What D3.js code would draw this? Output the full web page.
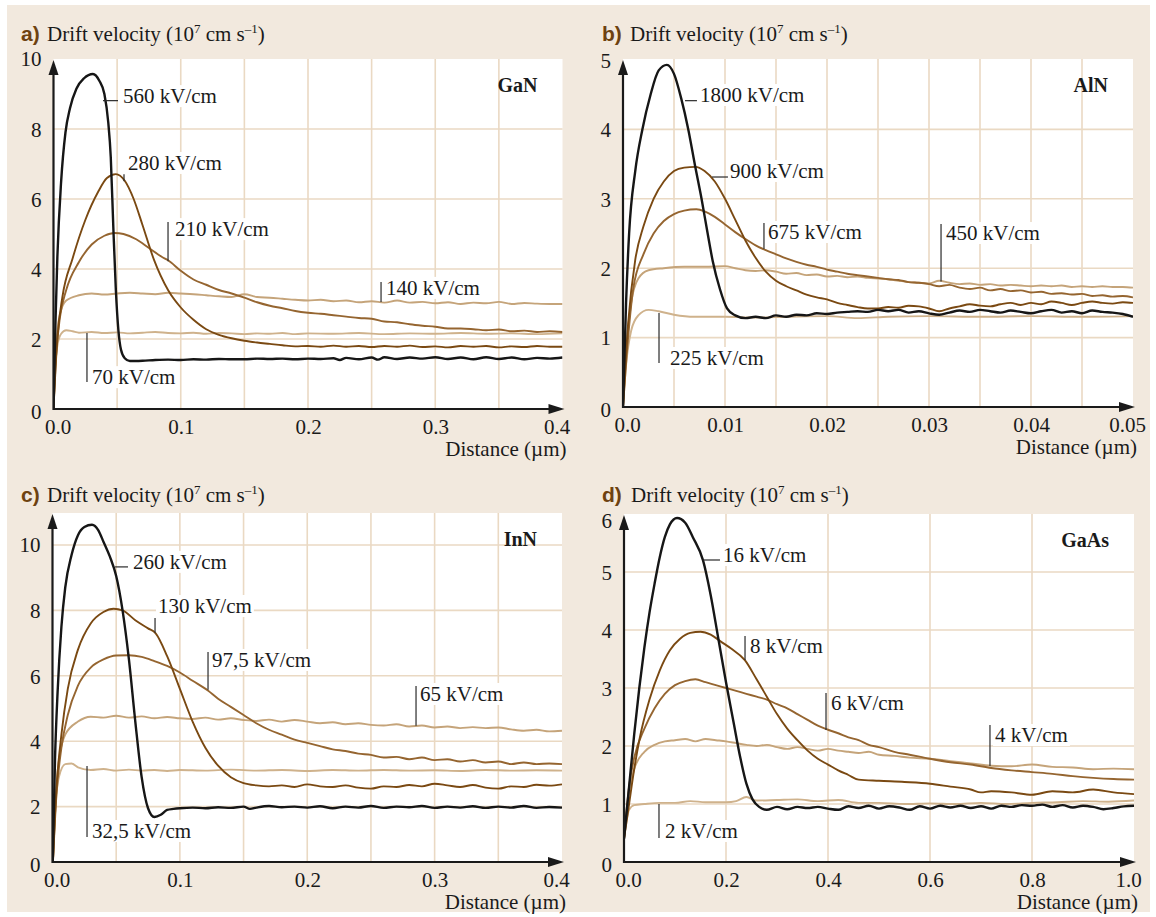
<!DOCTYPE html>
<html><head><meta charset="utf-8">
<script src="https://cdn.jsdelivr.net/npm/d3@7"></script>
<style>body{margin:0;background:#fff} svg{display:block}</style>
</head><body>
<svg id="chart" width="1156" height="917"></svg>
<script>
// ---------- DATA (distance in µm, drift velocity in 1e7 cm/s) ----------
const gan560 = [[0,0],[0.0015,2.4],[0.003,4.3],[0.006,6.5],[0.0094,7.9],[0.013,8.6],[0.018,9.15],[0.024,9.45],[0.031,9.57],[0.036,9.38],[0.04,9.0],[0.043,8.2],[0.045,7.2],[0.047,5.2],[0.049,3.4],[0.051,2.25],[0.053,1.7],[0.056,1.45],[0.06,1.37],[0.07,1.38],[0.08,1.4],[0.09,1.41],[0.1,1.4],[0.11,1.42],[0.12,1.41],[0.13,1.43],[0.14,1.42],[0.15,1.42],[0.16,1.44],[0.17,1.43],[0.18,1.44],[0.19,1.42],[0.2,1.44],[0.21,1.43],[0.22,1.45],[0.225,1.4],[0.23,1.46],[0.24,1.42],[0.25,1.47],[0.255,1.41],[0.26,1.48],[0.27,1.43],[0.28,1.47],[0.29,1.44],[0.3,1.48],[0.31,1.43],[0.32,1.47],[0.33,1.42],[0.34,1.48],[0.35,1.43],[0.36,1.47],[0.37,1.42],[0.38,1.46],[0.39,1.44],[0.4,1.47]];
const gan280 = [[0,0],[0.003,2.0],[0.007,3.2],[0.015,4.3],[0.025,5.4],[0.035,6.2],[0.042,6.6],[0.049,6.71],[0.056,6.52],[0.063,6.0],[0.07,5.25],[0.079,4.26],[0.09,3.4],[0.1,2.9],[0.11,2.55],[0.12,2.28],[0.13,2.12],[0.14,2.02],[0.15,1.95],[0.16,1.9],[0.17,1.86],[0.18,1.82],[0.19,1.79],[0.2,1.8],[0.21,1.78],[0.22,1.81],[0.23,1.78],[0.24,1.8],[0.25,1.77],[0.26,1.8],[0.27,1.78],[0.28,1.81],[0.29,1.77],[0.3,1.79],[0.31,1.76],[0.32,1.8],[0.33,1.78],[0.34,1.8],[0.35,1.76],[0.36,1.79],[0.37,1.77],[0.38,1.8],[0.39,1.78],[0.4,1.78]];
const gan210 = [[0,0],[0.002,1.5],[0.005,2.6],[0.01,3.4],[0.02,4.2],[0.03,4.7],[0.04,4.95],[0.048,5.03],[0.055,5.0],[0.065,4.85],[0.075,4.6],[0.085,4.35],[0.09,4.25],[0.1,3.95],[0.11,3.7],[0.12,3.55],[0.13,3.4],[0.14,3.3],[0.15,3.18],[0.16,3.05],[0.17,2.95],[0.18,2.88],[0.19,2.8],[0.2,2.75],[0.21,2.72],[0.22,2.68],[0.23,2.64],[0.24,2.6],[0.25,2.58],[0.26,2.5],[0.27,2.48],[0.28,2.42],[0.29,2.38],[0.3,2.35],[0.31,2.3],[0.32,2.3],[0.33,2.28],[0.34,2.25],[0.35,2.27],[0.36,2.22],[0.37,2.24],[0.38,2.2],[0.39,2.22],[0.4,2.2]];
const gan140 = [[0,0],[0.002,1.8],[0.005,2.7],[0.01,3.1],[0.02,3.25],[0.03,3.3],[0.04,3.27],[0.05,3.3],[0.06,3.32],[0.07,3.3],[0.08,3.28],[0.09,3.32],[0.1,3.3],[0.11,3.28],[0.12,3.25],[0.13,3.22],[0.14,3.2],[0.15,3.28],[0.16,3.2],[0.17,3.18],[0.18,3.15],[0.19,3.12],[0.2,3.1],[0.21,3.12],[0.22,3.08],[0.23,3.1],[0.24,3.05],[0.25,3.08],[0.26,3.04],[0.27,3.1],[0.28,3.04],[0.29,3.06],[0.3,3.02],[0.31,3.05],[0.32,3.0],[0.33,3.04],[0.34,3.02],[0.35,3.06],[0.36,3.0],[0.37,3.03],[0.38,3.01],[0.39,3.0],[0.4,3.0]];
const gan70 = [[0,0],[0.001,1.0],[0.003,1.8],[0.006,2.15],[0.01,2.25],[0.015,2.22],[0.02,2.18],[0.03,2.2],[0.04,2.17],[0.05,2.19],[0.06,2.16],[0.07,2.18],[0.08,2.2],[0.09,2.17],[0.1,2.16],[0.11,2.18],[0.12,2.15],[0.13,2.17],[0.14,2.16],[0.15,2.14],[0.16,2.16],[0.17,2.15],[0.18,2.17],[0.19,2.14],[0.2,2.16],[0.22,2.15],[0.24,2.17],[0.26,2.14],[0.28,2.16],[0.3,2.15],[0.32,2.17],[0.34,2.15],[0.36,2.16],[0.38,2.14],[0.4,2.16]];

const aln1800 = [[0,0],[0.0003,1.5],[0.0006,2.5],[0.0012,3.4],[0.0019,4.0],[0.0027,4.5],[0.0035,4.85],[0.0043,4.93],[0.005,4.8],[0.0057,4.45],[0.0064,4.0],[0.0071,3.45],[0.0077,3.0],[0.0083,2.5],[0.0088,2.1],[0.0095,1.7],[0.0102,1.42],[0.011,1.32],[0.012,1.28],[0.013,1.3],[0.014,1.28],[0.015,1.32],[0.016,1.3],[0.017,1.33],[0.018,1.32],[0.019,1.35],[0.02,1.34],[0.021,1.36],[0.022,1.37],[0.023,1.38],[0.024,1.37],[0.025,1.4],[0.026,1.38],[0.027,1.4],[0.028,1.36],[0.029,1.38],[0.03,1.35],[0.031,1.33],[0.032,1.36],[0.033,1.39],[0.034,1.37],[0.035,1.4],[0.036,1.38],[0.037,1.36],[0.038,1.39],[0.039,1.37],[0.04,1.35],[0.041,1.38],[0.042,1.4],[0.043,1.36],[0.044,1.38],[0.045,1.35],[0.046,1.39],[0.047,1.37],[0.048,1.36],[0.049,1.34],[0.05,1.3]];
const aln900 = [[0,0],[0.0005,1.2],[0.0012,2.12],[0.002,2.6],[0.003,3.0],[0.004,3.25],[0.005,3.4],[0.006,3.45],[0.0071,3.46],[0.008,3.4],[0.009,3.25],[0.01,3.0],[0.011,2.7],[0.012,2.4],[0.013,2.15],[0.014,1.95],[0.015,1.82],[0.016,1.74],[0.017,1.68],[0.018,1.62],[0.019,1.58],[0.02,1.55],[0.021,1.5],[0.022,1.47],[0.023,1.44],[0.024,1.42],[0.025,1.42],[0.026,1.44],[0.027,1.43],[0.028,1.46],[0.029,1.45],[0.03,1.42],[0.031,1.38],[0.032,1.42],[0.033,1.45],[0.034,1.48],[0.035,1.46],[0.036,1.45],[0.037,1.48],[0.038,1.5],[0.039,1.47],[0.04,1.5],[0.041,1.48],[0.042,1.52],[0.043,1.5],[0.044,1.47],[0.045,1.5],[0.046,1.52],[0.047,1.5],[0.048,1.49],[0.049,1.51],[0.05,1.5]];
const aln675 = [[0,0],[0.0005,1.0],[0.001,1.7],[0.002,2.2],[0.003,2.5],[0.004,2.68],[0.005,2.78],[0.006,2.83],[0.0072,2.85],[0.008,2.82],[0.009,2.74],[0.01,2.63],[0.011,2.52],[0.012,2.42],[0.013,2.33],[0.014,2.26],[0.015,2.2],[0.016,2.14],[0.017,2.09],[0.018,2.05],[0.019,2.02],[0.02,1.98],[0.021,1.95],[0.022,1.92],[0.023,1.9],[0.024,1.88],[0.025,1.86],[0.026,1.84],[0.027,1.83],[0.028,1.8],[0.029,1.79],[0.03,1.77],[0.031,1.74],[0.032,1.76],[0.033,1.72],[0.034,1.7],[0.035,1.72],[0.036,1.68],[0.037,1.7],[0.038,1.67],[0.039,1.68],[0.04,1.65],[0.041,1.66],[0.042,1.63],[0.043,1.64],[0.044,1.62],[0.045,1.63],[0.046,1.6],[0.047,1.61],[0.048,1.59],[0.049,1.6],[0.05,1.58]];
const aln450 = [[0,0],[0.0003,0.8],[0.0008,1.5],[0.0015,1.85],[0.0025,1.97],[0.004,2.0],[0.006,2.02],[0.008,2.02],[0.01,2.03],[0.011,2.0],[0.012,1.97],[0.013,1.96],[0.014,1.97],[0.015,1.95],[0.016,1.92],[0.017,1.93],[0.018,1.9],[0.019,1.91],[0.02,1.88],[0.021,1.89],[0.022,1.87],[0.023,1.88],[0.024,1.86],[0.025,1.85],[0.026,1.84],[0.027,1.82],[0.028,1.8],[0.029,1.79],[0.03,1.78],[0.031,1.82],[0.032,1.79],[0.033,1.77],[0.034,1.78],[0.035,1.76],[0.036,1.77],[0.037,1.75],[0.038,1.76],[0.039,1.75],[0.04,1.74],[0.041,1.75],[0.042,1.74],[0.043,1.75],[0.044,1.73],[0.045,1.74],[0.046,1.73],[0.047,1.74],[0.048,1.73],[0.049,1.73],[0.05,1.72]];
const aln225 = [[0,0],[0.0003,0.6],[0.0008,1.1],[0.0015,1.32],[0.0025,1.4],[0.0035,1.38],[0.005,1.33],[0.007,1.3],[0.01,1.3],[0.013,1.29],[0.016,1.3],[0.02,1.31],[0.023,1.28],[0.026,1.3],[0.03,1.31],[0.035,1.3],[0.04,1.31],[0.045,1.3],[0.05,1.31]];

const inn260 = [[0,0],[0.002,3.5],[0.004,5.5],[0.007,7.5],[0.01,8.7],[0.015,9.7],[0.02,10.3],[0.025,10.55],[0.031,10.62],[0.036,10.45],[0.04,10.1],[0.045,9.65],[0.05,9.05],[0.055,8.0],[0.06,6.5],[0.065,4.6],[0.07,2.9],[0.075,1.95],[0.08,1.68],[0.085,1.75],[0.09,1.9],[0.095,1.93],[0.1,1.95],[0.11,1.97],[0.12,1.95],[0.13,1.98],[0.14,1.96],[0.15,2.0],[0.155,1.93],[0.16,1.97],[0.17,2.02],[0.18,1.98],[0.19,2.0],[0.2,1.97],[0.21,2.01],[0.22,1.95],[0.23,2.0],[0.24,1.97],[0.25,2.02],[0.26,1.96],[0.27,2.0],[0.28,1.98],[0.29,2.02],[0.3,1.96],[0.31,2.0],[0.32,1.97],[0.33,2.01],[0.34,1.96],[0.35,2.0],[0.36,1.97],[0.37,2.02],[0.38,1.96],[0.39,1.99],[0.4,1.97]];
const inn130 = [[0,0],[0.003,2.5],[0.007,4.2],[0.012,5.6],[0.02,6.8],[0.03,7.6],[0.04,7.95],[0.048,8.05],[0.055,8.0],[0.065,7.7],[0.075,7.45],[0.081,7.3],[0.09,6.6],[0.1,5.6],[0.11,4.6],[0.12,3.8],[0.13,3.25],[0.14,2.9],[0.15,2.72],[0.16,2.65],[0.17,2.62],[0.18,2.65],[0.19,2.6],[0.2,2.68],[0.21,2.62],[0.22,2.6],[0.23,2.65],[0.24,2.58],[0.25,2.55],[0.26,2.62],[0.27,2.6],[0.28,2.66],[0.29,2.62],[0.3,2.7],[0.31,2.65],[0.32,2.6],[0.33,2.66],[0.34,2.58],[0.35,2.55],[0.36,2.62],[0.37,2.6],[0.38,2.67],[0.39,2.64],[0.4,2.68]];
const inn97 = [[0,0],[0.003,2.3],[0.007,3.8],[0.012,4.8],[0.02,5.7],[0.03,6.25],[0.04,6.5],[0.05,6.62],[0.06,6.63],[0.07,6.58],[0.08,6.45],[0.09,6.3],[0.1,6.1],[0.11,5.85],[0.122,5.55],[0.13,5.3],[0.14,5.05],[0.15,4.8],[0.16,4.55],[0.17,4.35],[0.18,4.2],[0.19,4.05],[0.2,3.95],[0.21,3.85],[0.22,3.75],[0.23,3.7],[0.24,3.62],[0.25,3.58],[0.26,3.5],[0.27,3.52],[0.28,3.45],[0.29,3.5],[0.3,3.42],[0.31,3.45],[0.32,3.38],[0.33,3.42],[0.34,3.35],[0.35,3.38],[0.36,3.3],[0.37,3.35],[0.38,3.3],[0.39,3.32],[0.4,3.3]];
const inn65 = [[0,0],[0.002,2.0],[0.005,3.4],[0.01,4.2],[0.02,4.6],[0.03,4.75],[0.04,4.72],[0.05,4.78],[0.06,4.72],[0.07,4.76],[0.08,4.7],[0.09,4.74],[0.1,4.7],[0.11,4.68],[0.12,4.72],[0.13,4.66],[0.14,4.7],[0.15,4.65],[0.16,4.62],[0.17,4.66],[0.18,4.6],[0.19,4.65],[0.2,4.6],[0.21,4.55],[0.22,4.58],[0.23,4.52],[0.24,4.55],[0.25,4.5],[0.26,4.48],[0.27,4.52],[0.28,4.45],[0.29,4.48],[0.3,4.42],[0.31,4.45],[0.32,4.4],[0.33,4.43],[0.34,4.4],[0.35,4.42],[0.36,4.36],[0.37,4.32],[0.38,4.35],[0.39,4.3],[0.4,4.32]];
const inn32 = [[0,0],[0.002,1.8],[0.005,2.9],[0.01,3.3],[0.015,3.32],[0.02,3.2],[0.03,3.12],[0.04,3.15],[0.05,3.1],[0.06,3.13],[0.07,3.1],[0.08,3.12],[0.09,3.09],[0.1,3.12],[0.12,3.1],[0.14,3.13],[0.16,3.1],[0.18,3.12],[0.2,3.09],[0.22,3.12],[0.24,3.1],[0.26,3.12],[0.28,3.1],[0.3,3.11],[0.32,3.09],[0.34,3.12],[0.36,3.1],[0.38,3.11],[0.4,3.1]];

const gaas16 = [[0,0.4],[0.01,1.3],[0.02,2.2],[0.03,3.0],[0.04,3.7],[0.05,4.3],[0.06,4.8],[0.07,5.25],[0.08,5.6],[0.09,5.82],[0.104,5.93],[0.12,5.85],[0.135,5.6],[0.155,5.2],[0.17,4.6],[0.185,3.85],[0.2,3.1],[0.215,2.4],[0.228,1.8],[0.24,1.35],[0.252,1.08],[0.265,0.95],[0.28,0.9],[0.3,0.95],[0.32,0.91],[0.34,0.95],[0.36,0.93],[0.38,0.95],[0.4,0.92],[0.42,0.9],[0.44,0.96],[0.46,0.93],[0.48,0.97],[0.5,0.92],[0.52,0.96],[0.54,0.94],[0.56,0.9],[0.58,0.96],[0.6,0.92],[0.62,0.97],[0.64,0.94],[0.66,0.97],[0.68,0.93],[0.7,0.96],[0.72,0.92],[0.74,0.97],[0.76,0.95],[0.78,0.98],[0.8,0.97],[0.82,0.99],[0.84,0.95],[0.86,0.98],[0.88,0.94],[0.9,0.97],[0.92,0.95],[0.94,0.91],[0.96,0.93],[0.98,0.96],[1.0,0.97]];
const gaas8 = [[0,0.4],[0.01,1.0],[0.02,1.6],[0.03,2.1],[0.05,2.8],[0.07,3.3],[0.09,3.65],[0.11,3.85],[0.13,3.95],[0.15,3.97],[0.17,3.92],[0.19,3.8],[0.21,3.68],[0.237,3.48],[0.26,3.15],[0.28,2.85],[0.3,2.55],[0.32,2.3],[0.34,2.1],[0.36,1.92],[0.38,1.78],[0.4,1.68],[0.42,1.58],[0.44,1.5],[0.46,1.42],[0.5,1.4],[0.55,1.38],[0.6,1.35],[0.64,1.3],[0.68,1.25],[0.7,1.2],[0.72,1.22],[0.76,1.2],[0.8,1.16],[0.84,1.22],[0.88,1.2],[0.92,1.25],[0.96,1.2],[1.0,1.17]];
const gaas6 = [[0,0.4],[0.01,1.3],[0.02,1.8],[0.04,2.3],[0.06,2.65],[0.08,2.9],[0.1,3.05],[0.12,3.12],[0.14,3.15],[0.16,3.1],[0.18,3.05],[0.2,3.0],[0.22,2.95],[0.24,2.9],[0.26,2.85],[0.28,2.8],[0.3,2.72],[0.32,2.65],[0.34,2.55],[0.36,2.45],[0.38,2.35],[0.4,2.28],[0.42,2.22],[0.44,2.15],[0.46,2.1],[0.48,2.02],[0.5,1.98],[0.53,1.9],[0.56,1.85],[0.6,1.78],[0.64,1.72],[0.68,1.68],[0.72,1.62],[0.76,1.58],[0.8,1.55],[0.84,1.52],[0.88,1.48],[0.92,1.45],[0.96,1.43],[1.0,1.42]];
const gaas4 = [[0,0.4],[0.01,1.2],[0.02,1.6],[0.04,1.9],[0.06,2.02],[0.08,2.08],[0.1,2.1],[0.12,2.12],[0.14,2.08],[0.16,2.12],[0.18,2.1],[0.2,2.08],[0.22,2.05],[0.24,2.02],[0.26,2.0],[0.28,2.02],[0.3,1.98],[0.32,1.95],[0.34,1.98],[0.36,1.95],[0.38,1.92],[0.4,1.95],[0.42,1.92],[0.44,1.9],[0.46,1.88],[0.48,1.9],[0.5,1.85],[0.53,1.83],[0.56,1.8],[0.6,1.78],[0.64,1.74],[0.68,1.7],[0.72,1.66],[0.76,1.65],[0.8,1.68],[0.84,1.64],[0.88,1.63],[0.92,1.6],[0.96,1.61],[1.0,1.6]];
const gaas2 = [[0,0.4],[0.01,0.9],[0.02,0.98],[0.04,1.0],[0.07,1.02],[0.1,1.02],[0.13,1.05],[0.16,1.03],[0.2,1.03],[0.22,1.05],[0.24,1.12],[0.26,1.06],[0.3,1.07],[0.34,1.08],[0.38,1.05],[0.42,1.07],[0.46,1.02],[0.5,1.02],[0.55,1.0],[0.6,1.01],[0.65,1.0],[0.7,1.02],[0.75,1.0],[0.8,1.02],[0.85,1.03],[0.9,1.05],[0.95,1.04],[1.0,1.06]];

// tick labels
const xTicksGaN = [0, 0.1, 0.2, 0.3, 0.4];
const xTicksAlN = [0, 0.01, 0.02, 0.03, 0.04, 0.05];
const xTicksInN = [0, 0.1, 0.2, 0.3, 0.4];
const xTicksGaAs = [0, 0.2, 0.4, 0.6, 0.8, 1.0];
const yTicksGaN = [0, 2, 4, 6, 8, 10];
const yTicksAlN = [0, 1, 2, 3, 4, 5];
const yTicksInN = [0, 2, 4, 6, 8, 10];
const yTicksGaAs = [0, 1, 2, 3, 4, 5, 6];
const xGridGaN = [0.05,0.1,0.15,0.2,0.25,0.3,0.35];
const xGridAlN = [0.005,0.01,0.015,0.02,0.025,0.03,0.035,0.04,0.045];
const xGridGaAs = [0.2,0.4,0.6,0.8];

// annotation labels: text, text anchor point [x,y] (data), leader [x1,y1,x2,y2] (data)
const labelsGaN = [
  {t:"560 kV/cm", p:[0.0546,8.74], l:[0.0389,8.81,0.0507,8.81]},
  {t:"280 kV/cm", p:[0.0585,6.83], l:[0.0554,6.71,0.0554,6.51]},
  {t:"210 kV/cm", p:[0.0955,4.94], l:[0.09,5.34,0.09,4.22]},
  {t:"140 kV/cm", p:[0.2613,3.26], l:[0.2574,3.63,0.2574,3.06]},
  {t:"70 kV/cm",  p:[0.0303,0.71], l:[0.0263,2.17,0.0263,0.77]}
];
const labelsAlN = [
  {t:"1800 kV/cm", p:[0.00755,4.395], l:[0.00608,4.414,0.00725,4.414]},
  {t:"900 kV/cm",  p:[0.01049,3.30],  l:[0.00873,3.314,0.01029,3.314]},
  {t:"675 kV/cm",  p:[0.01422,2.421], l:[0.01382,2.651,0.01382,2.277]},
  {t:"450 kV/cm",  p:[0.03167,2.406], l:[0.03118,2.637,0.03118,1.81]},
  {t:"225 kV/cm",  p:[0.00461,0.605], l:[0.00353,1.354,0.00353,0.634]}
];
const labelsInN = [
  {t:"260 kV/cm",  p:[0.0632,9.27], l:[0.0491,9.33,0.0593,9.33]},
  {t:"130 kV/cm",  p:[0.0828,7.92], l:[0.0805,7.77,0.0805,7.32]},
  {t:"97,5 kV/cm", p:[0.1252,6.27], l:[0.1221,6.73,0.1221,5.57]},
  {t:"65 kV/cm",   p:[0.2885,5.23], l:[0.2854,5.69,0.2854,4.47]},
  {t:"32,5 kV/cm", p:[0.031,1.04],  l:[0.0271,3.24,0.0271,1.07]}
];
const labelsGaAs = [
  {t:"16 kV/cm", p:[0.1941,5.172], l:[0.1549,5.207,0.1882,5.207]},
  {t:"8 kV/cm",  p:[0.2471,3.603], l:[0.2373,3.897,0.2373,3.483]},
  {t:"6 kV/cm",  p:[0.4059,2.621], l:[0.3961,2.914,0.3961,2.276]},
  {t:"4 kV/cm",  p:[0.7275,2.069], l:[0.7176,2.362,0.7176,1.655]},
  {t:"2 kV/cm",  p:[0.0804,0.414], l:[0.0686,1.0,0.0686,0.414]}
];

// ---------- STYLE / LAYOUT ----------
const C = {black:"#161616", dark:"#7a4912", mid:"#956530", light:"#c5a47a", lighter:"#cfb28c"};
const SERIF = "'Liberation Serif','Times New Roman',serif";
const FS = 21;

const panels = [
  {letter:"a)", mat:"GaN", xDom:[0,0.4], yDom:[0,10], xr:[53.5,562.5], yr:[409,59], top:59, axisY:409, titleY:41, lx:21, tx:47, topLabelShift:0,
   xTicks:xTicksGaN, yTicks:yTicksGaN, xGrid:xGridGaN, yGrid:[2,4,6,8], xFmt:d3.format(".1f"),
   series:[[gan70,C.lighter],[gan140,C.light],[gan210,C.mid],[gan280,C.dark],[gan560,C.black]], labels:labelsGaN},
  {letter:"b)", mat:"AlN", xDom:[0,0.05], yDom:[0,5], xr:[623,1133], yr:[407,60], top:59, axisY:407, titleY:41, lx:602, tx:630, topLabelShift:1,
   xTicks:xTicksAlN, yTicks:yTicksAlN, xGrid:xGridAlN, yGrid:[1,2,3,4], xFmt:d=>d===0?"0.0":d3.format(".2f")(d),
   series:[[aln225,C.lighter],[aln450,C.light],[aln675,C.mid],[aln900,C.dark],[aln1800,C.black]], labels:labelsAlN},
  {letter:"c)", mat:"InN", xDom:[0,0.4], yDom:[0,10], xr:[52.5,562], yr:[872,545], top:513, axisY:862, titleY:502, lx:21, tx:47, topLabelShift:0,
   xTicks:xTicksInN, yTicks:yTicksInN, xGrid:xGridGaN, yGrid:[2,4,6,8,10], xFmt:d3.format(".1f"),
   series:[[inn32,C.lighter],[inn65,C.light],[inn97,C.mid],[inn130,C.dark],[inn260,C.black]], labels:labelsInN},
  {letter:"d)", mat:"GaAs", xDom:[0,1], yDom:[0,6], xr:[624,1134], yr:[862,514], top:514, axisY:862, titleY:502, lx:602, tx:631, topLabelShift:7,
   xTicks:xTicksGaAs, yTicks:yTicksGaAs, xGrid:xGridGaAs, yGrid:[1,2,3,4,5], xFmt:d3.format(".1f"),
   series:[[gaas2,C.lighter],[gaas4,C.light],[gaas6,C.mid],[gaas8,C.dark],[gaas16,C.black]], labels:labelsGaAs}
];

const svg = d3.select("#chart");
svg.append("rect").attr("x",7).attr("y",5).attr("width",1143).attr("height",907).attr("fill","#f2e9de");

panels.forEach((P, i) => {
  const x = d3.scaleLinear().domain(P.xDom).range(P.xr);
  const y = d3.scaleLinear().domain(P.yDom).range(P.yr);
  const L = P.xr[0], R = P.xr[1], T = P.top, B = P.axisY;
  const g = svg.append("g");

  g.append("rect").attr("x",L).attr("y",T).attr("width",R-L).attr("height",B-T).attr("fill","#fff");

  // grid
  g.selectAll(".vg").data(P.xGrid).join("line")
    .attr("x1",d=>x(d)).attr("x2",d=>x(d)).attr("y1",T).attr("y2",B)
    .attr("stroke","#ead9c3").attr("stroke-width",1.6);
  g.selectAll(".hg").data(P.yGrid).join("line")
    .attr("y1",d=>y(d)).attr("y2",d=>y(d)).attr("x1",L).attr("x2",R)
    .attr("stroke","#ead9c3").attr("stroke-width",1.6);

  // clip
  const cid = "clip"+i;
  svg.append("clipPath").attr("id",cid).append("rect").attr("x",L).attr("y",T-2).attr("width",R-L).attr("height",B-T+2);

  const line = d3.line().x(d=>x(d[0])).y(d=>y(d[1])).curve(d3.curveMonotoneX);
  const cg = g.append("g").attr("clip-path",`url(#${cid})`);
  P.series.forEach(([data,col]) => {
    cg.append("path").datum(data).attr("d",line).attr("fill","none")
      .attr("stroke",col).attr("stroke-width", col===C.black?2.4:1.9).attr("stroke-linejoin","round");
  });

  // annotations
  P.labels.forEach(a => {
    const ag = g.append("g");
    const txt = ag.append("text").attr("x",x(a.p[0])).attr("y",y(a.p[1]))
      .attr("font-family",SERIF).attr("font-size",FS).attr("fill","#1a1a1a").text(a.t);
    const bb = txt.node().getBBox();
    ag.insert("rect","text").attr("x",bb.x-2).attr("y",bb.y+1).attr("width",bb.width+4).attr("height",bb.height-2).attr("fill","#fff");
    ag.append("line").attr("x1",x(a.l[0])).attr("y1",y(a.l[1])).attr("x2",x(a.l[2])).attr("y2",y(a.l[3]))
      .attr("stroke","#2a2a2a").attr("stroke-width",1.2);
  });

  // axes lines with arrows
  g.append("line").attr("x1",L).attr("x2",R-10).attr("y1",B).attr("y2",B).attr("stroke","#1a1a1a").attr("stroke-width",2.2);
  g.append("path").attr("d",`M${R+2},${B} L${R-14},${B-5} L${R-14},${B+5} Z`).attr("fill","#1a1a1a");
  g.append("line").attr("x1",L).attr("x2",L).attr("y1",B+1).attr("y2",T+10).attr("stroke","#1a1a1a").attr("stroke-width",2.2);
  g.append("path").attr("d",`M${L},${T+1} L${L-5},${T+16} L${L+5},${T+16} Z`).attr("fill","#1a1a1a");

  // x tick labels via axis
  const lastX = P.xTicks[P.xTicks.length-1];
  const xa = g.append("g").attr("transform",`translate(0,${B})`)
    .call(d3.axisBottom(x).tickValues(P.xTicks).tickFormat(P.xFmt).tickSize(0));
  xa.select(".domain").remove();
  xa.selectAll("text").attr("y",25).attr("dy",null).attr("font-family",SERIF).attr("font-size",FS).attr("fill","#1a1a1a")
    .attr("dx",d=>d===0?4:(d===lastX?-6:0));

  // y tick labels via axis
  const lastY = P.yTicks[P.yTicks.length-1];
  const ya = g.append("g").attr("transform",`translate(${L},0)`)
    .call(d3.axisLeft(y).tickValues(P.yTicks).tickFormat(d3.format("d")).tickSize(0).tickPadding(12));
  ya.select(".domain").remove();
  ya.selectAll("text").attr("font-family",SERIF).attr("font-size",FS).attr("fill","#1a1a1a")
    .attr("dy","0.35em");
  ya.selectAll(".tick").filter(d=>d===0).attr("transform",`translate(0,${B+3})`);
  ya.selectAll(".tick").filter(d=>d===lastY).attr("transform",`translate(0,${y(lastY)+P.topLabelShift})`);

  // axis title
  g.append("text").attr("x",R+4).attr("y",B+47).attr("text-anchor","end")
    .attr("font-family",SERIF).attr("font-size",FS).attr("fill","#1a1a1a").text("Distance (µm)");

  // material label
  g.append("text").attr("x",R-25).attr("y",T+33).attr("text-anchor","end")
    .attr("font-family",SERIF).attr("font-weight","bold").attr("font-size",20).attr("fill","#1a1a1a").text(P.mat);

  // panel title
  g.append("text").attr("x",P.lx).attr("y",P.titleY).attr("font-family","'Liberation Sans',Arial,sans-serif")
    .attr("font-weight","bold").attr("font-size",21).attr("fill","#6e4210").text(P.letter);
  const tt = g.append("text").attr("x",P.tx).attr("y",P.titleY).attr("font-family",SERIF).attr("font-size",FS).attr("fill","#1a1a1a");
  tt.append("tspan").text("Drift velocity (10");
  tt.append("tspan").attr("dy",-8).attr("font-size",13).text("7");
  tt.append("tspan").attr("dy",8).text(" cm s");
  tt.append("tspan").attr("dy",-8).attr("font-size",13).text("–1");
  tt.append("tspan").attr("dy",8).text(")");
});
</script>
</body></html>
